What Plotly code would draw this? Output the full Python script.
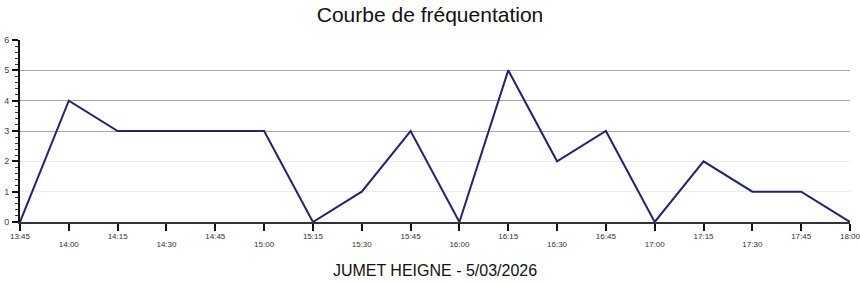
import plotly.graph_objects as go

times = ["13:45", "14:00", "14:15", "14:30", "14:45", "15:00", "15:15", "15:30", "15:45",
         "16:00", "16:15", "16:30", "16:45", "17:00", "17:15", "17:30", "17:45", "18:00"]
visits = [0, 4, 3, 3, 3, 3, 0, 1, 3, 0, 5, 2, 3, 0, 2, 1, 1, 0]
y_ticks = [0, 1, 2, 3, 4, 5, 6]
strong_grid = [3, 4, 5]

n = len(times)
idx = list(range(n))
upper_idx = [i for i in idx if i % 2 == 0 or i == n - 1]
lower_idx = [i for i in idx if i not in upper_idx]

fig = go.Figure()
fig.add_trace(go.Scatter(x=idx, y=visits, mode="lines",
                         line=dict(color="#23236e", width=2), showlegend=False,
                         hoverinfo="skip"))
fig.add_trace(go.Scatter(x=[0], y=[0], xaxis="x2", yaxis="y2", mode="markers",
                         marker=dict(opacity=0), showlegend=False, hoverinfo="skip"))

fig.update_layout(
    width=860, height=284,
    margin=dict(l=20, r=10, t=40, b=62),
    paper_bgcolor="white", plot_bgcolor="white",
    font=dict(family="Liberation Sans, Arial, sans-serif", color="#222"),
    title=dict(text="Courbe de fréquentation", x=0.5, xanchor="center",
               y=0.975, yanchor="top", font=dict(size=21, color="#111")),
    xaxis=dict(range=[0, n - 1], tickmode="array",
               tickvals=idx, ticktext=[times[i] if i in upper_idx else "" for i in idx],
               ticks="outside", ticklen=7, tickwidth=2, tickcolor="#111",
               showline=True, linecolor="#333", linewidth=2,
               showgrid=False, zeroline=False, automargin=False,
               ticklabeloverflow="allow", ticklabelstandoff=-2,
               tickfont=dict(size=8, color="#333"),
               title=dict(text="JUMET HEIGNE - 5/03/2026", standoff=25,
                          font=dict(size=16, color="#111"))),
    xaxis2=dict(range=[0, n - 1], overlaying="x", anchor="y", side="bottom",
                tickmode="array", tickvals=lower_idx,
                ticktext=[times[i] for i in lower_idx],
                ticks="outside", ticklen=7, tickcolor="rgba(0,0,0,0)",
                ticklabelstandoff=7, showline=False, showgrid=False,
                zeroline=False, automargin=False,
                tickfont=dict(size=8, color="#333")),
    yaxis=dict(range=[0, 6], tickmode="array", tickvals=y_ticks,
               ticks="outside", ticklen=6, tickwidth=2, tickcolor="#111",
               showline=True, linecolor="#111", linewidth=2,
               showgrid=True, gridcolor="#ececec", gridwidth=1,
               zeroline=False, automargin=False, ticklabelstandoff=1,
               tickfont=dict(size=9, color="#444"),
               minor=dict(dtick=0.2, ticks="outside", ticklen=3,
                          tickcolor="#333", tickwidth=1, showgrid=False)),
    yaxis2=dict(range=[0, 6], overlaying="y", tickmode="array", tickvals=strong_grid,
                showticklabels=False, ticks="", showgrid=True,
                gridcolor="#a8a8a8", gridwidth=1, zeroline=False, showline=False,
                automargin=False),
)

fig.write_html("out.html")
